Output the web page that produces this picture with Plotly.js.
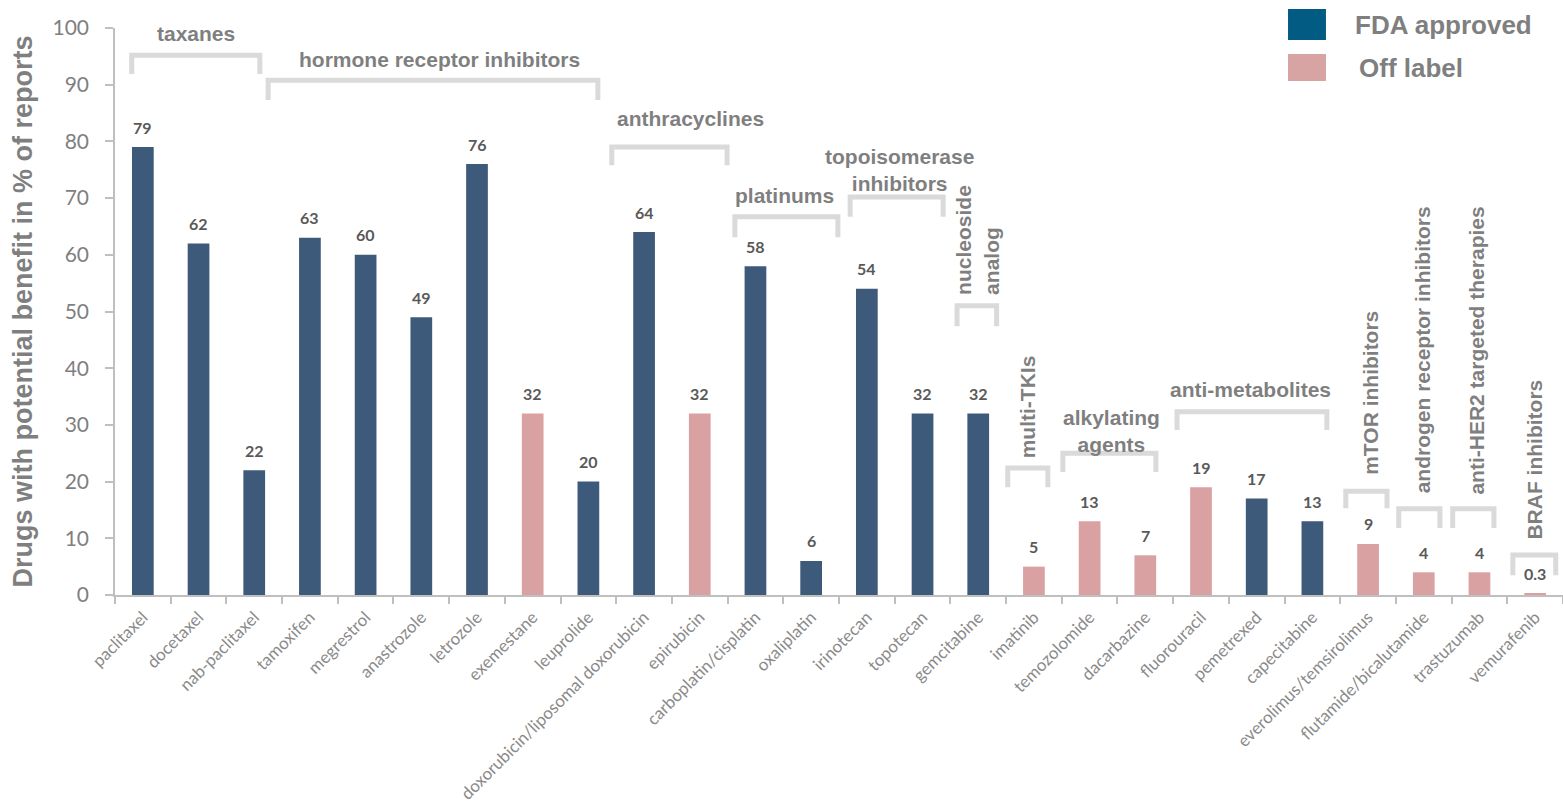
<!DOCTYPE html>
<html>
<head>
<meta charset="utf-8">
<script src="https://cdn.plot.ly/plotly-3.0.1.min.js"></script>
<style>html,body{margin:0;padding:0;background:#fff}#chart{width:1563px;height:808px}</style>
</head>
<body>
<div id="chart"></div>
<script>
// ---------- data ----------
const drugs = ['paclitaxel','docetaxel','nab-paclitaxel','tamoxifen','megrestrol','anastrozole','letrozole',
  'exemestane','leuprolide','doxorubicin/liposomal doxorubicin','epirubicin','carboplatin/cisplatin',
  'oxaliplatin','irinotecan','topotecan','gemcitabine','imatinib','temozolomide','dacarbazine',
  'fluorouracil','pemetrexed','capecitabine','everolimus/temsirolimus','flutamide/bicalutamide',
  'trastuzumab','vemurafenib'];
const benefit = [79,62,22,63,60,49,76,32,20,64,32,58,6,54,32,32,5,13,7,19,17,13,9,4,4,0.3];
const approval = ['FDA','FDA','FDA','FDA','FDA','FDA','FDA','Off','FDA','FDA','Off','FDA','FDA','FDA',
  'FDA','FDA','Off','Off','Off','Off','FDA','FDA','Off','Off','Off','Off'];
const groupLabels = ['taxanes','hormone receptor inhibitors','anthracyclines','platinums',
  'topoisomerase<br>inhibitors','nucleoside<br>analog','multi-TKIs','alkylating<br>agents',
  'anti-metabolites','mTOR inhibitors','androgen receptor inhibitors','anti-HER2 targeted therapies',
  'BRAF inhibitors'];
const legendLabels = ['FDA approved','Off label'];

// ---------- styling / positions ----------
const colFDA = '#3e5a7a', colOff = '#d9a1a1';
const legendCol = ['#025b82', '#d8a3a3'];
const grey = '#7f7f7f';
// bracket geometry: [x0, x1, yTop, yBottom] in axis units; label: [x, y, rotated]
const bracketGeom = [
  [-0.2, 2.1, 95.2, 91.9], [2.25, 8.17, 90.8, 87.3], [8.42, 10.49, 79.0, 75.8], [10.63, 12.48, 66.7, 63.1],
  [12.7, 14.37, 70.2, 66.7], [14.62, 15.33, 51.0, 47.4], [15.53, 16.25, 22.4, 19.0], [16.52, 18.19, 25.0, 21.7],
  [18.57, 21.26, 32.3, 29.1], [21.6, 22.34, 18.3, 15.3], [22.55, 23.29, 15.2, 11.8], [23.52, 24.26, 15.2, 11.8],
  [24.6, 25.37, 7.05, 3.5]];
const labelGeom = [
  [0.95, 99.1, false], [5.33, 94.4, false], [9.84, 84.1, false], [11.53, 70.4, false],
  [13.58, 74.9, false], [14.98, 52.6, true], [15.89, 23.8, true], [17.4, 29.0, false],
  [19.88, 36.2, false], [22.03, 20.8, true], [22.98, 17.6, true], [23.95, 17.3, true],
  [24.99, 9.35, true]];

const trace = {
  type: 'bar',
  x: drugs,
  y: benefit,
  marker: {color: approval.map(a => a === 'FDA' ? colFDA : colOff), line: {width: 0}},
  hoverinfo: 'x+y',
  showlegend: false
};

const shapes = [];
const annotations = [];

// value labels
drugs.forEach((d, i) => {
  annotations.push({
    x: d, y: benefit[i], xref: 'x', yref: 'y', text: '<b>' + String(benefit[i]) + '</b>',
    showarrow: false, yanchor: 'middle', xanchor: 'center', yshift: 20,
    font: {family: 'Lato, "Open Sans", sans-serif', size: 16, color: '#595959'}
  });
});

// group brackets and labels
groupLabels.forEach((g, i) => {
  const b = bracketGeom[i];
  shapes.push({
    type: 'path', xref: 'x', yref: 'y',
    path: `M ${b[0]},${b[3]} L ${b[0]},${b[2]} L ${b[1]},${b[2]} L ${b[1]},${b[3]}`,
    line: {color: '#dadada', width: 5}
  });
  const l = labelGeom[i];
  annotations.push({
    x: l[0], y: l[1], xref: 'x', yref: 'y', text: '<b>' + g + '</b>', showarrow: false,
    textangle: l[2] ? -90 : 0, xanchor: 'center', yanchor: l[2] ? 'bottom' : 'middle',
    align: l[2] ? 'left' : 'center',
    font: {family: '"Liberation Sans", Arial, sans-serif', size: 21, color: grey}
  });
});

// custom legend (paper coordinates)
const legendRows = [[1.0335, 0.9788], [0.9541, 0.9065]];
legendLabels.forEach((t, i) => {
  shapes.push({
    type: 'rect', xref: 'paper', yref: 'paper',
    x0: 0.8101, x1: 0.8363, y0: legendRows[i][1], y1: legendRows[i][0],
    fillcolor: legendCol[i], line: {width: 0}
  });
  annotations.push({
    x: i === 0 ? 0.855 : 0.8578, y: (legendRows[i][0] + legendRows[i][1]) / 2,
    xref: 'paper', yref: 'paper', text: '<b>' + t + '</b>', showarrow: false,
    xanchor: 'left', yanchor: 'middle',
    font: {family: '"Liberation Sans", Arial, sans-serif', size: 26, color: grey}
  });
});

const layout = {
  width: 1563, height: 808,
  margin: {l: 115, r: 0, t: 28, b: 213},
  paper_bgcolor: '#ffffff', plot_bgcolor: '#ffffff',
  bargap: 0.61,
  showlegend: false,
  xaxis: {
    type: 'category', tickangle: -45, showgrid: false, zeroline: false,
    showline: true, linecolor: '#bfbfbf', linewidth: 1.5,
    ticks: 'outside', tickson: 'boundaries', ticklen: 7, tickcolor: '#bfbfbf', tickwidth: 1.5,
    ticklabelstandoff: 4,
    tickfont: {family: 'Lato, "Open Sans", sans-serif', size: 17, color: '#8a8a8a'},
    range: [-0.5, 25.5], automargin: false
  },
  yaxis: {
    range: [0, 100], dtick: 10, showgrid: false, zeroline: false,
    showline: true, linecolor: '#bfbfbf', linewidth: 1.5,
    ticks: 'outside', ticklen: 8, tickcolor: '#bfbfbf', tickwidth: 1.5,
    ticklabelstandoff: 12,
    tickfont: {family: 'Lato, "Open Sans", sans-serif', size: 21, color: grey},
    title: {text: '<b>Drugs with potential benefit in % of reports</b>', standoff: 12,
      font: {family: '"Liberation Sans", Arial, sans-serif', size: 27, color: grey}},
    automargin: false
  },
  shapes: shapes,
  annotations: annotations
};

Plotly.newPlot('chart', [trace], layout, {displayModeBar: false, responsive: false});
</script>
</body>
</html>
